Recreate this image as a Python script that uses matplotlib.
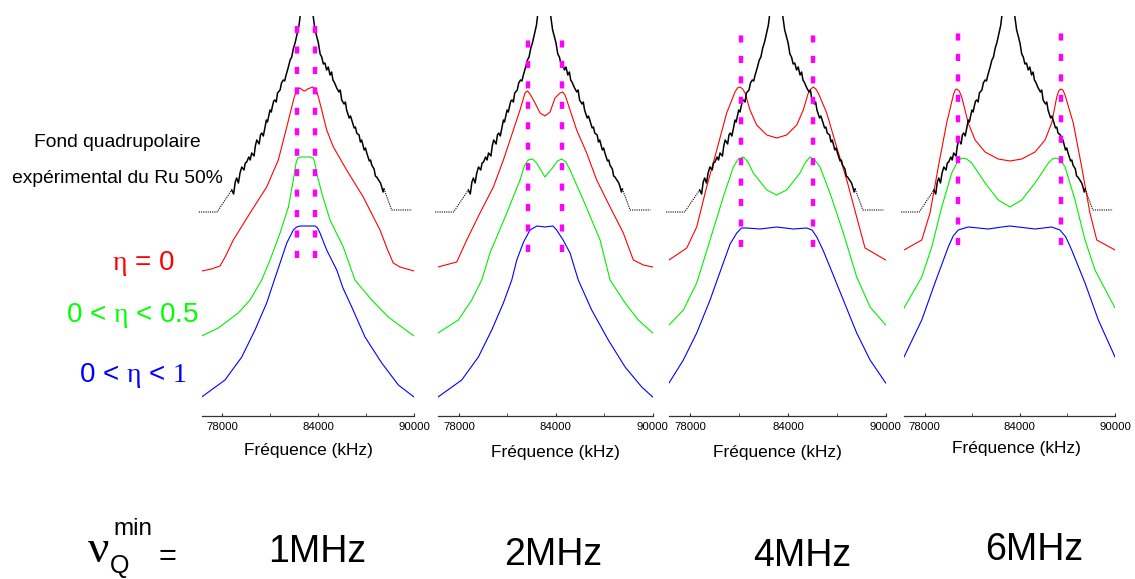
"""
NQR spectra: experimental quadrupolar background of Ru 50% compared with
simulated lineshapes for several nu_Q^min values.
"""
import matplotlib
matplotlib.use('Agg')
import matplotlib.pyplot as plt

plt.rcParams['font.family'] = ['Liberation Sans', 'DejaVu Sans']
# upright serif greek (Symbol-like) for eta / nu
plt.rcParams['mathtext.fontset'] = 'custom'
plt.rcParams['mathtext.rm'] = 'Liberation Serif'
plt.rcParams['mathtext.it'] = 'Liberation Serif'

# frequency in kHz, intensity in arbitrary units (axis 0..40)
black_left_tail = [(76520, 20.4), (77660, 20.4), (78580, 22.6)]
black_main = [
    (78580, 22.6), (78700, 22.2), (78800, 23.4), (78890, 23.8), (79000, 23.3),
    (79100, 24.3), (79210, 24.9), (79350, 24.6), (79430, 25.3), (79520, 25.4),
    (79650, 25.9), (79740, 25.6), (79830, 26.3), (79980, 26.0), (80060, 27.0),
    (80150, 27.6), (80300, 27.2), (80380, 28.1), (80460, 28.3), (80560, 28.0),
    (80670, 28.9), (80750, 29.6), (80820, 29.4), (80980, 30.6), (81060, 30.4),
    (81120, 30.9), (81210, 31.5), (81290, 31.6), (81370, 31.4), (81450, 32.3),
    (81610, 32.6), (81700, 33.3), (81810, 33.6), (81900, 33.5), (81970, 34.0),
    (82130, 34.9), (82240, 35.6), (82340, 35.9), (82450, 36.8), (82550, 37.3),
    (82690, 38.3), (82800, 39.1), (82860, 39.9), (82950, 42.0),
    (83550, 42.0), (83690, 39.9), (83800, 38.6), (83900, 38.0), (84010, 37.3),
    (84120, 36.2), (84220, 35.9), (84320, 35.2), (84420, 35.3), (84530, 34.6),
    (84630, 34.9), (84740, 34.1), (84840, 34.4), (84920, 33.6), (85000, 33.4),
    (85160, 32.8), (85300, 32.4), (85380, 32.6), (85470, 31.6), (85620, 31.2),
    (85700, 31.4), (85780, 30.6), (85940, 29.8), (86020, 30.0), (86100, 29.6),
    (86250, 28.8), (86330, 28.9), (86410, 28.3), (86560, 28.1), (86640, 27.4),
    (86720, 27.6), (86880, 26.6), (86960, 26.8), (87040, 26.3), (87200, 25.5),
    (87280, 25.6), (87350, 25.1), (87500, 24.7), (87580, 24.0), (87660, 23.9),
    (87820, 23.5), (87900, 23.3), (87980, 22.9), (88060, 22.4), (88120, 22.7),
]
black_right_tail = [(88120, 22.7), (88600, 20.6), (89860, 20.6)]

# panel 1 : 1 MHz
red_1 = [
    (76700, 14.5), (77300, 14.7), (77850, 15.0), (78200, 16.0), (78680, 17.6),
    (79730, 20.3), (80770, 22.9), (81500, 25.6), (82030, 28.9), (82340, 30.9),
    (82480, 31.8), (82610, 32.4), (82740, 32.7), (82860, 32.8), (83000, 32.6),
    (83170, 32.5), (83330, 32.7), (83490, 32.8), (83650, 32.9), (83800, 32.7),
    (83920, 32.4), (84010, 31.9), (84220, 30.6), (84530, 28.6), (84950, 26.9),
    (85780, 24.6), (86820, 21.9), (87870, 18.6), (88350, 16.6), (88700, 15.3),
    (89120, 14.9), (90000, 14.5),
]
green_1 = [
    (76700, 8.0), (77740, 8.8), (78990, 10.3), (79730, 11.6), (80460, 13.6),
    (80980, 15.6), (81610, 18.3), (82130, 20.9), (82440, 23.6), (82610, 25.3),
    (82720, 25.8), (82860, 25.9), (83490, 25.9), (83690, 25.8), (83800, 25.2),
    (83900, 24.3), (84220, 22.3), (84740, 19.6), (85570, 16.9), (86300, 13.6),
    (87350, 11.6), (88390, 9.9), (89230, 8.9), (90000, 8.0),
]
blue_1 = [
    (76700, 1.9), (78160, 3.6), (79210, 5.9), (80040, 8.6), (80770, 11.3),
    (81250, 13.6), (81610, 15.3), (82030, 17.3), (82440, 18.6), (82650, 18.9),
    (82860, 19.0), (83800, 19.0), (83960, 18.8), (84110, 18.3), (84530, 16.6),
    (85160, 14.6), (85550, 12.8), (86100, 10.9), (86930, 7.9), (87980, 5.3),
    (89020, 3.1), (90000, 1.9),
]

# panel 2 : 2 MHz
red_2 = [
    (76700, 14.9), (77860, 15.4), (78480, 17.6), (79300, 20.3), (80130, 22.9),
    (80750, 25.6), (81370, 28.6), (81780, 30.6), (82090, 32.3), (82240, 32.5),
    (82400, 32.2), (82710, 31.3), (83020, 30.3), (83330, 30.0), (83640, 30.4),
    (83950, 31.8), (84260, 32.3), (84420, 32.4), (84570, 32.1), (84880, 30.6),
    (85290, 28.6), (85910, 26.3), (86530, 23.6), (87360, 20.9), (88180, 18.3),
    (88800, 15.6), (89420, 15.1), (90000, 14.9),
]
green_2 = [
    (76700, 8.3), (77960, 9.6), (78790, 11.6), (79410, 13.6), (79920, 16.3),
    (80960, 20.3), (81780, 23.6), (82050, 25.0), (82290, 25.6), (82550, 25.7),
    (82810, 25.3), (83330, 23.9), (83840, 24.9), (84100, 25.5), (84360, 25.7),
    (84620, 25.4), (84880, 24.6), (85700, 21.6), (86740, 17.6), (87360, 13.6),
    (88290, 11.3), (89110, 9.6), (90000, 8.3),
]
blue_2 = [
    (76700, 1.9), (78170, 3.6), (79200, 5.9), (80030, 8.6), (80750, 11.3),
    (81270, 13.6), (81580, 15.6), (82000, 17.4), (82400, 18.6), (82830, 19.0),
    (83330, 18.9), (83820, 19.0), (84050, 18.6), (84450, 17.6), (84880, 16.3),
    (85390, 13.6), (86220, 10.6), (87250, 7.6), (88290, 4.9), (89320, 2.9),
    (90000, 1.9),
]

# panel 3 : 4 MHz
red_3 = [
    (76700, 15.6), (77790, 16.8), (78400, 18.9), (79010, 22.9), (79630, 26.6),
    (80240, 30.3), (80750, 32.4), (80900, 32.8), (81060, 32.9), (81220, 32.7),
    (81370, 32.3), (81670, 30.6), (82080, 29.1), (82700, 28.1), (83310, 27.8),
    (83920, 28.1), (84540, 29.1), (84940, 30.6), (85250, 32.3), (85400, 32.7),
    (85560, 32.9), (85710, 32.7), (85860, 32.3), (86380, 30.3), (86990, 26.9),
    (87610, 23.6), (88220, 19.9), (88730, 16.8), (90000, 15.6),
]
green_3 = [
    (76700, 9.1), (77580, 10.6), (78400, 13.3), (79220, 17.6), (80030, 21.9),
    (80650, 24.9), (80950, 25.7), (81260, 25.9), (81550, 25.4), (81870, 24.3),
    (82700, 22.6), (83310, 22.1), (83920, 22.6), (84740, 24.3), (85050, 25.3),
    (85350, 25.9), (85650, 25.6), (85970, 24.9), (86580, 22.3), (87400, 18.3),
    (88220, 13.9), (89040, 10.9), (90000, 9.1),
]
blue_3 = [
    (76700, 3.3), (77580, 5.6), (78400, 8.3), (79220, 11.6), (80030, 15.3),
    (80450, 17.2), (80860, 18.3), (81150, 18.8), (81470, 18.8), (82290, 18.7),
    (83310, 18.9), (84330, 18.7), (85150, 18.8), (85480, 18.6), (85770, 17.9),
    (86150, 16.6), (86580, 14.9), (87400, 11.6), (88220, 8.3), (89040, 5.6),
    (90000, 3.3),
]

# panel 4 : 6 MHz
red_4 = [
    (76700, 16.6), (77820, 17.6), (78340, 20.3), (78860, 24.9), (79390, 29.3),
    (79810, 32.1), (79920, 32.6), (80020, 32.7), (80180, 32.5), (80340, 31.9),
    (80750, 29.3), (81180, 27.6), (81810, 26.4), (82640, 25.7), (83380, 25.5),
    (84120, 25.7), (84960, 26.4), (85590, 27.6), (86010, 29.3), (86330, 31.9),
    (86450, 32.5), (86580, 32.7), (86720, 32.6), (86850, 32.1), (87370, 29.3),
    (87900, 24.9), (88420, 20.3), (88850, 17.6), (90000, 16.6),
]
green_4 = [
    (76700, 10.8), (77820, 13.9), (78450, 16.9), (79080, 20.9), (79710, 24.3),
    (80100, 25.5), (80340, 25.8), (80650, 25.7), (80970, 25.3), (81810, 23.3),
    (82640, 21.6), (83380, 20.9), (84120, 21.6), (84960, 23.3), (85800, 25.3),
    (86050, 25.7), (86280, 25.8), (86560, 25.6), (86850, 24.9), (87480, 21.6),
    (88110, 17.6), (88740, 14.6), (90000, 10.8),
]
blue_4 = [
    (76700, 5.9), (77820, 9.6), (78650, 13.3), (79490, 16.9), (79800, 18.0),
    (80120, 18.6), (80750, 18.9), (82010, 18.7), (82860, 18.9), (83380, 19.0),
    (83900, 18.9), (84960, 18.7), (86010, 18.9), (86530, 18.6), (86900, 17.9),
    (87270, 16.6), (88110, 13.3), (88950, 9.6), (90000, 5.9),
]

# magenta markers: frequencies and vertical extent per panel
marker_khz = [(82670, 83800), (82260, 84380), (81100, 85560), (80120, 86580)]
marker_span = [(15.8, 39.8), (16.4, 38.3), (16.9, 38.7), (17.1, 39.1)]

nuq_labels = ['1MHz', '2MHz', '4MHz', '6MHz']
major_ticks = [78000, 84000, 90000]
minor_ticks = [81000, 87000]

RED, GREEN, BLUE, MAGENTA = '#ff0000', '#00f000', '#0000ff', '#ff00ff'
W, H = 1135, 579

panels = [
    (red_1, green_1, blue_1),
    (red_2, green_2, blue_2),
    (red_3, green_3, blue_3),
    (red_4, green_4, blue_4),
]
# axes boxes in pixels (left, width)
boxes = [(201.7, 212.3), (438, 214.7), (669, 216.7), (904, 211)]
xlabel_pos = [(308, 450), (555, 452), (777, 453), (1016, 448)]
nuq_pos = [(317, 562), (553, 565), (802, 566), (1034, 560)]


def xy(points):
    return [p[0] for p in points], [p[1] for p in points]


fig = plt.figure(figsize=(W / 100, H / 100), dpi=100)

for i, (curves, (left, width)) in enumerate(zip(panels, boxes)):
    ax = fig.add_axes([left / W, (H - 416) / H, width / W, 400 / H])
    for pts, col in zip(curves, (RED, GREEN, BLUE)):
        ax.plot(*xy(pts), color=col, linewidth=0.8)

    ax.plot(*xy(black_left_tail), color='black', linewidth=0.8,
            linestyle=(0, (1, 1)), clip_on=False)
    ax.plot(*xy(black_right_tail), color='black', linewidth=0.8,
            linestyle=(0, (1, 1)), clip_on=False)
    ax.plot(*xy(black_main), color='black', linewidth=1.1)

    lo, hi = marker_span[i]
    ax.vlines(marker_khz[i], lo, hi, colors=MAGENTA, linewidth=3.2,
              linestyles=(0, (1.6, 3.0)))

    ax.set_xlim(76700, 90000)
    ax.set_ylim(0, 40)
    for side in ('left', 'right', 'top'):
        ax.spines[side].set_visible(False)
    ax.spines['bottom'].set_color('#333333')
    ax.spines['bottom'].set_linewidth(0.9)
    ax.set_yticks([])
    ax.set_xticks(major_ticks)
    ax.set_xticks(minor_ticks, minor=True)
    ax.tick_params(axis='x', which='both', direction='in', length=2.5,
                   color='#333333', labelsize=8.2, pad=4)
    ax.set_facecolor('none')

    fx, fy = xlabel_pos[i]
    fig.text(fx / W, 1 - fy / H, 'Fréquence (kHz)', fontsize=12.4,
             ha='center', va='center')
    nx, ny = nuq_pos[i]
    fig.text(nx / W, 1 - ny / H, nuq_labels[i], fontsize=27,
             ha='center', va='baseline')

# left annotations
fig.text(117 / W, 1 - 146.7 / H, 'Fond quadrupolaire', fontsize=13.9,
         ha='center', va='baseline')
fig.text(117 / W, 1 - 182.7 / H, 'expérimental du Ru 50%', fontsize=13.9,
         ha='center', va='baseline')
fig.text(143 / W, 1 - 270 / H, r'$\eta$ = 0', fontsize=20, color=RED,
         ha='center', va='baseline')
fig.text(132 / W, 1 - 322 / H, r'0 < $\eta$ < 0.5', fontsize=20, color='#00ff00',
         ha='center', va='baseline')
fig.text(133 / W, 1 - 381.5 / H, r'0 < $\eta$ < $1$', fontsize=20, color=BLUE,
         ha='center', va='baseline')

# nu_Q^min =
fig.text(87 / W, 1 - 562 / H, r'$\nu$', fontsize=34, ha='left', va='baseline')
fig.text(113 / W, 1 - 535 / H, 'min', fontsize=17.5, ha='left', va='baseline')
fig.text(110 / W, 1 - 573 / H, 'Q', fontsize=18, ha='left', va='baseline')
fig.text(158 / W, 1 - 565 / H, '=', fontsize=22, ha='left', va='baseline')

fig.savefig('out.png', dpi=100, facecolor='white')
plt.close(fig)
